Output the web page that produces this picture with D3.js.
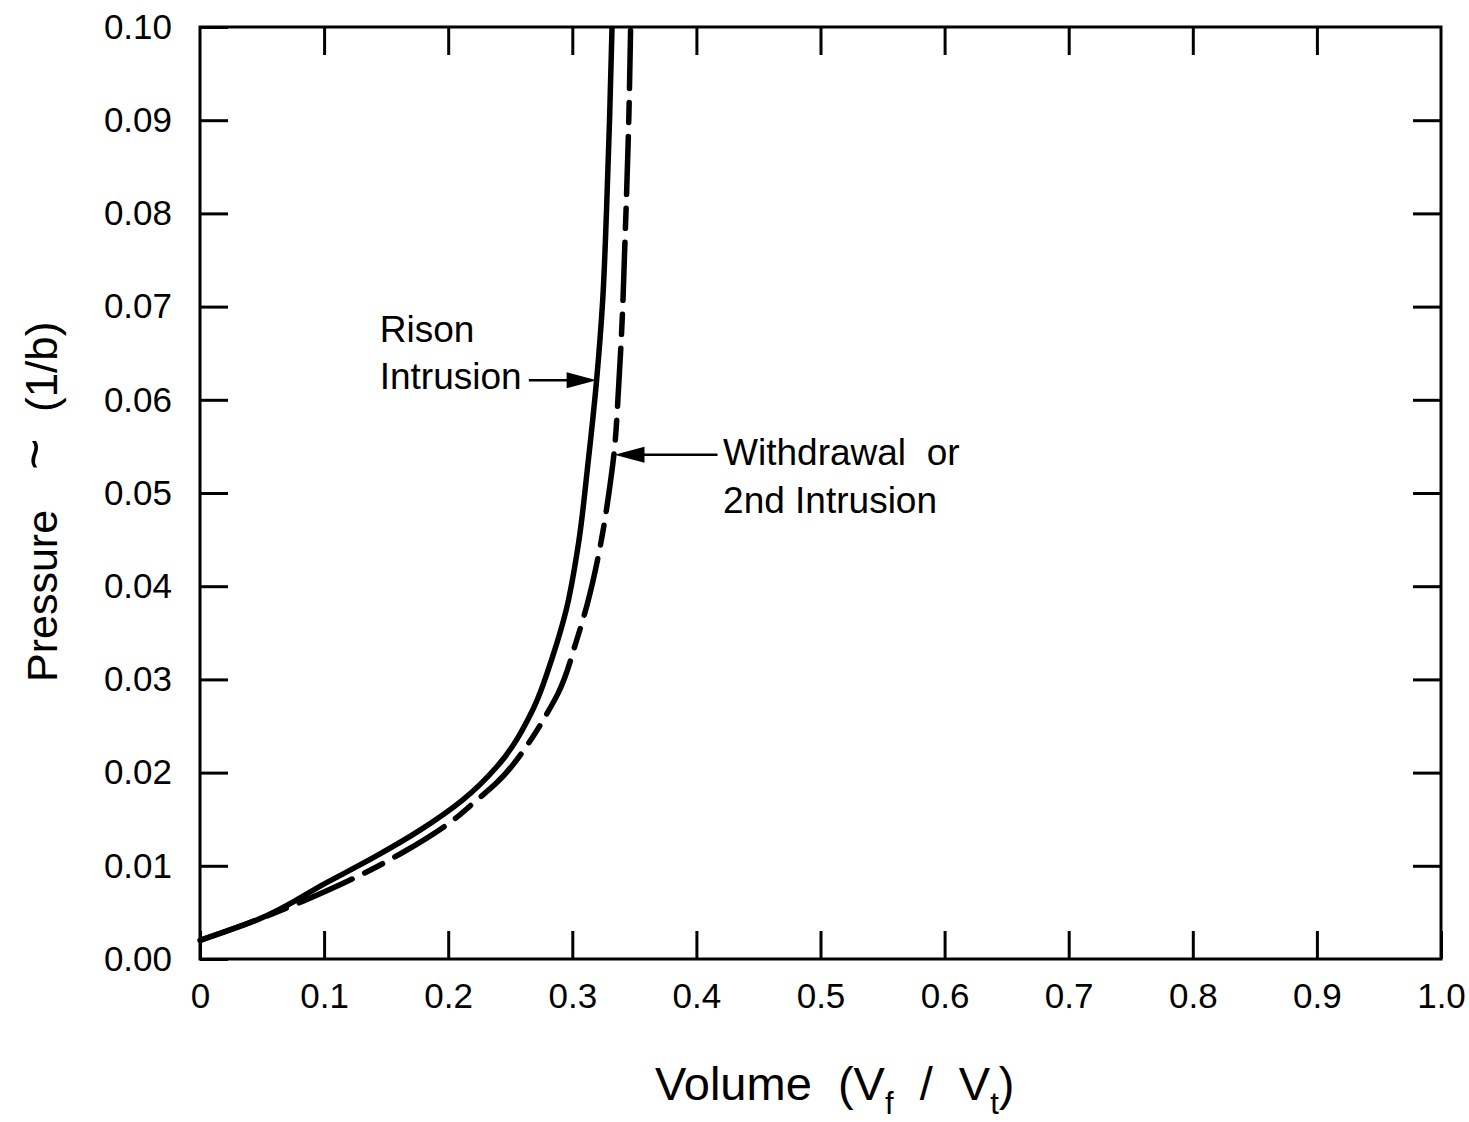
<!DOCTYPE html>
<html lang="en">
<meta charset="utf-8">
<head>
    <script src='https://d3js.org/d3.v7.min.js'></script>
    <style>
        body { margin: 0; background: #fff; }
        text { font-family: 'Liberation Sans', Arial, sans-serif; fill: #000; }
    </style>
</head>
<body>
</body>

<script>
var width = 1469, height = 1122;
var margin = {left: 200, right: 28, top: 27, bottom: 163};

var xTicks = [0, 0.1, 0.2, 0.3, 0.4, 0.5, 0.6, 0.7, 0.8, 0.9, 1.0];
var xTickLabels = ['0', '0.1', '0.2', '0.3', '0.4', '0.5', '0.6', '0.7', '0.8', '0.9', '1.0'];
var yTicks = [0, 0.01, 0.02, 0.03, 0.04, 0.05, 0.06, 0.07, 0.08, 0.09, 0.10];
var yTickLabels = ['0.00', '0.01', '0.02', '0.03', '0.04', '0.05', '0.06', '0.07', '0.08', '0.09', '0.10'];

// Rison intrusion (solid)
var risonVolume   = [0, 0.046, 0.102, 0.140, 0.177, 0.212, 0.239, 0.268, 0.284, 0.295, 0.305, 0.3125, 0.3195, 0.3245, 0.3275, 0.330, 0.332];
var risonPressure = [0.0020, 0.0042, 0.0082, 0.0109, 0.0138, 0.0171, 0.0206, 0.0267, 0.0324, 0.0374, 0.0446, 0.053, 0.062, 0.0707, 0.080, 0.090, 0.100];

// withdrawal or 2nd intrusion (dashed)
var withdrawVolume   = [0, 0.046, 0.083, 0.1425, 0.163, 0.204, 0.220, 0.239, 0.268, 0.279, 0.2885, 0.3035, 0.3115, 0.3235, 0.3295, 0.3335, 0.3375, 0.3403, 0.342, 0.3455, 0.347];
var withdrawPressure = [0.0020, 0.0042, 0.0062, 0.0099, 0.0114, 0.0149, 0.0167, 0.0189, 0.0238, 0.0262, 0.0285, 0.0342, 0.0378, 0.045, 0.050, 0.0541, 0.0618, 0.0689, 0.0753, 0.090, 0.100];

var svg = d3.select('body').append('svg').attr('width', width).attr('height', height);

var x = d3.scaleLinear().domain([0, 1]).range([margin.left, width - margin.right]);
var y = d3.scaleLinear().domain([0, 0.1]).range([height - margin.bottom, margin.top]);

var tickLen = 28;

// frame
svg.append('rect')
    .attr('x', x(0)).attr('y', y(0.1))
    .attr('width', x(1) - x(0)).attr('height', y(0) - y(0.1))
    .attr('fill', 'none').attr('stroke', '#000').attr('stroke-width', 3);

// inward ticks on all four sides
function fmtX(d, i) { return xTickLabels[i]; }
function fmtY(d, i) { return yTickLabels[i]; }

var bottom = svg.append('g').attr('transform', 'translate(0,' + y(0) + ')')
    .call(d3.axisBottom(x).tickValues(xTicks).tickFormat(fmtX).tickSizeInner(-tickLen).tickSizeOuter(0).tickPadding(24));
var top_ = svg.append('g').attr('transform', 'translate(0,' + y(0.1) + ')')
    .call(d3.axisTop(x).tickValues(xTicks.slice(1, -1)).tickFormat('').tickSizeInner(-tickLen).tickSizeOuter(0));
var left = svg.append('g').attr('transform', 'translate(' + x(0) + ',0)')
    .call(d3.axisLeft(y).tickValues(yTicks).tickFormat(fmtY).tickSizeInner(-tickLen).tickSizeOuter(0).tickPadding(28));
var right = svg.append('g').attr('transform', 'translate(' + x(1) + ',0)')
    .call(d3.axisRight(y).tickValues(yTicks.slice(1, -1)).tickFormat('').tickSizeInner(-tickLen).tickSizeOuter(0));

[bottom, top_, left, right].forEach(function(g) {
    g.select('.domain').remove();
    g.selectAll('line').attr('stroke', '#000').attr('stroke-width', 3);
    g.selectAll('text').style('font-size', '35px').style('font-family', "'Liberation Sans', Arial, sans-serif").attr('fill', '#000');
});
bottom.selectAll('text').attr('dy', '0.71em');

// curves (pressure rises monotonically, so smooth volume as a function of pressure)
var line = d3.line()
    .x(function(d) { return x(d[0]); })
    .y(function(d) { return y(d[1]); })
    .curve(d3.curveMonotoneY);

var rison = d3.zip(risonVolume, risonPressure);
var withdraw = d3.zip(withdrawVolume, withdrawPressure);

svg.append('path').datum(withdraw)
    .attr('d', line)
    .attr('fill', 'none').attr('stroke', '#000').attr('stroke-width', 5.5)
    .attr('stroke-linecap', 'round')
    .attr('stroke-dasharray', '58,14,20,14');

svg.append('path').datum(rison)
    .attr('d', line)
    .attr('fill', 'none').attr('stroke', '#000').attr('stroke-width', 5.5);

// annotations
function arrow(x0, x1, py) {
    var yy = y(py), xa = x(x0), xb = x(x1);
    var dir = xb > xa ? 1 : -1;
    svg.append('line').attr('x1', xa).attr('y1', yy).attr('x2', xb - dir * 20).attr('y2', yy)
        .attr('stroke', '#000').attr('stroke-width', 2.5);
    svg.append('path')
        .attr('d', 'M' + xb + ',' + yy + 'L' + (xb - dir * 30) + ',' + (yy - 8) + 'L' + (xb - dir * 30) + ',' + (yy + 8) + 'Z')
        .attr('fill', '#000');
}

var labelSize = '37px';
svg.append('text').attr('x', x(0.1448)).attr('y', y(0.0662)).style('font-size', labelSize).text('Rison');
svg.append('text').attr('x', x(0.1448)).attr('y', y(0.0612)).style('font-size', labelSize).text('Intrusion');
arrow(0.2650, 0.3196, 0.0621);

svg.append('text').attr('x', x(0.4215)).attr('y', y(0.0530)).style('font-size', labelSize)
    .attr('xml:space', 'preserve').text('Withdrawal  or');
svg.append('text').attr('x', x(0.4215)).attr('y', y(0.0479)).style('font-size', labelSize).text('2nd Intrusion');
arrow(0.4170, 0.3340, 0.0541);

// axis titles
var xt = svg.append('text').attr('x', 655).attr('y', 1100)
    .style('font-size', '47px').attr('xml:space', 'preserve');
xt.append('tspan').text('Volume  (V');
xt.append('tspan').attr('dy', 14).style('font-size', '31px').text('f');
xt.append('tspan').attr('dy', -14).text('  /  V');
xt.append('tspan').attr('dy', 14).style('font-size', '31px').text('t');
xt.append('tspan').attr('dy', -14).text(')');

var yt = svg.append('g').attr('transform', 'translate(57,0) rotate(-90)');
yt.append('text').attr('x', -682).style('font-size', '43px').text('Pressure');
yt.append('text').attr('x', -470).attr('y', -4).style('font-size', '54px').text('~');
yt.append('text').attr('x', -412).style('font-size', '44px').text('(1/b)');
</script>
</html>
